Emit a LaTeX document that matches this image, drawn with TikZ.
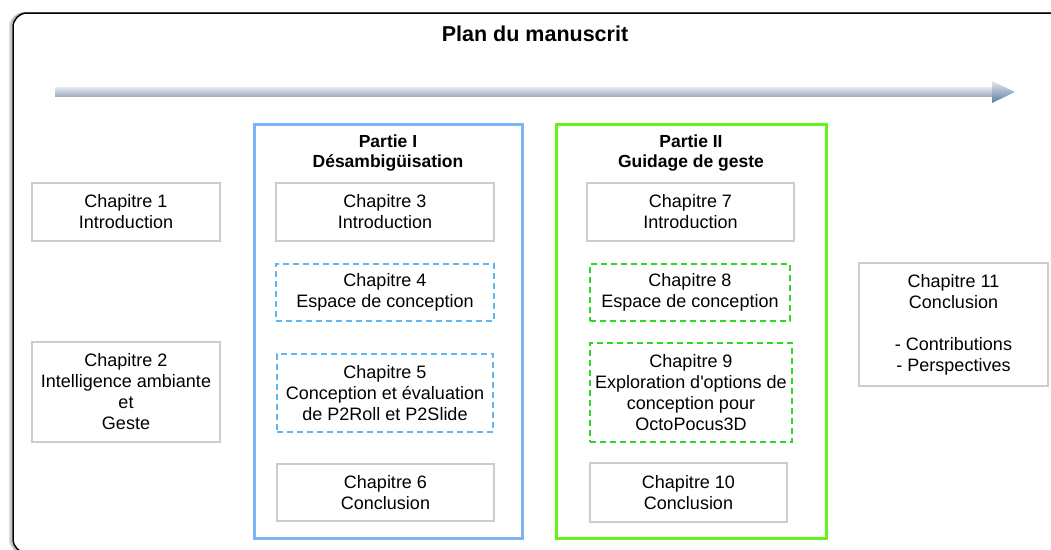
\documentclass[tikz,border=0pt]{standalone}
\usepackage{fontspec}
\setmainfont{Liberation Sans}[Ligatures=TeXOff]
\definecolor{chapgray}{RGB}{204,204,204}
\definecolor{partblue}{RGB}{128,178,246}
\definecolor{partgreen}{RGB}{98,242,28}
\definecolor{dblue}{RGB}{94,182,246}
\definecolor{dgreen}{RGB}{48,214,40}
\definecolor{arrtop}{RGB}{228,231,235}
\definecolor{arrbot}{RGB}{158,173,192}
\definecolor{headbot}{RGB}{88,124,168}
\begin{document}
\begin{tikzpicture}[x=1pt,y=-1pt,
  chapbox/.style={draw=chapgray, line width=1.2pt, align=center, inner sep=0pt,
    font=\fontsize{18}{21}\selectfont},
  dashb/.style={chapbox, draw=dblue, line width=1.3pt, dash pattern=on 6pt off 4pt},
  dashg/.style={chapbox, draw=dgreen, line width=1.3pt, dash pattern=on 6pt off 4pt},
  partframe/.style={line width=3pt, inner sep=0pt},
  parttitle/.style={align=center, inner sep=0pt, font=\bfseries\fontsize{17.5}{20}\selectfont},
  frameline/.style={line width=1.5pt, rounded corners=14pt}]
\useasboundingbox (0,0) rectangle (1051,549);
\clip (0,0) rectangle (1051,549);
% outer frame with soft shadow
\draw[frameline, black, opacity=0.12, xshift=-3.5pt] (13,13) rectangle (1070,553);
\draw[frameline, black, opacity=0.25, xshift=-2pt] (13,13) rectangle (1070,553);
\draw[frameline, black] (13,13) rectangle (1070,553);
% title
\node[anchor=base, inner sep=0pt, font=\bfseries\fontsize{21.5}{25}\selectfont] (title) at (535,41) {Plan du manuscrit};
% timeline arrow
\shade[top color=arrtop, bottom color=arrbot] (55,87.5) rectangle (993,96.5);
\shade[top color=arrtop, bottom color=headbot] (992,81) -- (1015,92) -- (992,103) -- cycle;
% left chapters
\node[chapbox, minimum width=188pt, minimum height=58pt] (c1) at (126,212) {Chapitre 1\\Introduction};
\node[chapbox, minimum width=188pt, minimum height=100pt] (c2) at (126,392) {Chapitre 2\\Intelligence ambiante\\et\\Geste};
% Partie I
\node[partframe, draw=partblue, minimum width=268pt, minimum height=414pt] (p1) at (388,331) {};
\node[parttitle] (p1t) at (388,153) {Partie I\\Désambigüisation};
\node[chapbox, minimum width=218pt, minimum height=58pt] (c3) at (385,212) {Chapitre 3\\Introduction};
\node[dashb, minimum width=218pt, minimum height=57pt] (c4) at (385,292.5) {Chapitre 4\\Espace de conception};
\node[dashb, minimum width=216pt, minimum height=78pt] (c5) at (385,393) {Chapitre 5\\Conception et évaluation\\de P2Roll et P2Slide};
\node[chapbox, minimum width=217pt, minimum height=57pt] (c6) at (385.5,492.5) {Chapitre 6\\Conclusion};
% Partie II
\node[partframe, draw=partgreen, minimum width=270pt, minimum height=414pt] (p2) at (691,331) {};
\node[parttitle] (p2t) at (691,153) {Partie II\\Guidage de geste};
\node[chapbox, minimum width=207pt, minimum height=58pt] (c7) at (690.5,212) {Chapitre 7\\Introduction};
\node[dashg, minimum width=200pt, minimum height=57pt] (c8) at (690,292.5) {Chapitre 8\\Espace de conception};
\node[dashg, minimum width=202pt, minimum height=99pt] (c9) at (691,392.5) {Chapitre 9\\Exploration d'options de\\conception pour\\OctoPocus3D};
\node[chapbox, minimum width=197pt, minimum height=59pt] (c10) at (688.5,492.5) {Chapitre 10\\Conclusion};
% right chapter
\node[chapbox, minimum width=189pt, minimum height=123pt] (c11) at (953.5,324.5) {Chapitre 11\\Conclusion\\[21pt]- Contributions\\- Perspectives};
\end{tikzpicture}
\end{document}
